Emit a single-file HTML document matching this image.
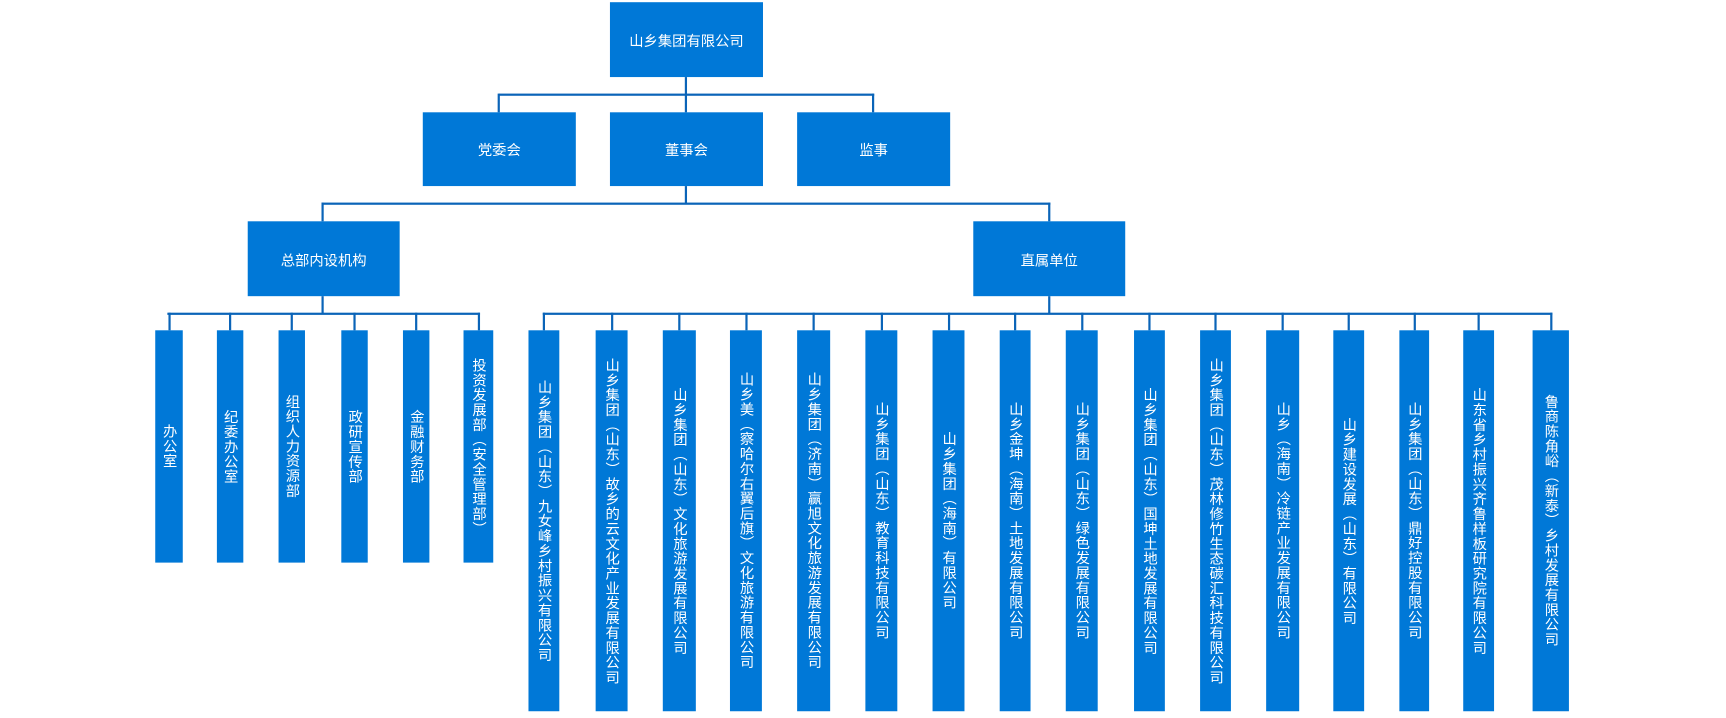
<!DOCTYPE html>
<html><head><meta charset="utf-8"><style>
html,body{margin:0;padding:0;background:#fff;width:1726px;height:717px;overflow:hidden}
#c{position:absolute;left:0;top:0;width:1568px;height:652px;transform:scale(1.1010);transform-origin:0 0}
.b{position:absolute;background:#0078d7;color:#fff;font-family:"Liberation Sans","Noto Sans CJK SC",sans-serif;font-size:13px;display:flex;align-items:center;justify-content:center}
.v{writing-mode:vertical-rl;letter-spacing:0.5px;font-size:13px;line-height:1}
.l{position:absolute;background:#0a64b8}
</style></head><body><div id="c">
<div class="b" style="left:554px;top:2px;width:139px;height:68px">山乡集团有限公司</div>
<div class="l" style="left:622px;top:70px;width:2px;height:32px"></div>
<div class="l" style="left:453px;top:85px;width:341px;height:2px"></div>
<div class="l" style="left:452px;top:85px;width:2px;height:17px"></div>
<div class="l" style="left:792px;top:85px;width:2px;height:17px"></div>
<div class="b" style="left:384px;top:102px;width:139px;height:67px">党委会</div>
<div class="b" style="left:554px;top:102px;width:139px;height:67px">董事会</div>
<div class="b" style="left:724px;top:102px;width:139px;height:67px">监事</div>
<div class="l" style="left:622px;top:169px;width:2px;height:16px"></div>
<div class="l" style="left:292px;top:184px;width:662px;height:2px"></div>
<div class="l" style="left:292px;top:184px;width:2px;height:17px"></div>
<div class="l" style="left:952px;top:184px;width:2px;height:17px"></div>
<div class="b" style="left:225px;top:201px;width:138px;height:68px">总部内设机构</div>
<div class="b" style="left:884px;top:201px;width:138px;height:68px">直属单位</div>
<div class="l" style="left:292px;top:269px;width:2px;height:16px"></div>
<div class="l" style="left:152px;top:284px;width:284px;height:2px"></div>
<div class="l" style="left:952px;top:269px;width:2px;height:16px"></div>
<div class="l" style="left:493px;top:284px;width:917px;height:2px"></div>
<script>
var c=document.getElementById('c');
function add(x,w,h,txt,cx){
 var l=document.createElement('div');l.className='l';l.style.cssText='left:'+(cx-1)+'px;top:284px;width:2px;height:16px';c.appendChild(l);
 var d=document.createElement('div');d.className='b';d.style.cssText='left:'+x+'px;top:300px;width:'+w+'px;height:'+h+'px';
 d.innerHTML='<span class="v">'+txt+'</span>';c.appendChild(d);}
var L=[[141,25,'办公室'],[197,24,'纪委办公室'],[253,24,'组织人力资源部'],[310,24,'政研宣传部'],[366,24,'金融财务部'],[421,27,'投资发展部（安全管理部）']];
L.forEach(function(a){add(a[0],a[1],211,a[2],a[0]+a[1]/2);});
var R=[[480,28,'山乡集团（山东）九女峰乡村振兴有限公司'],[541,29,'山乡集团（山东）故乡的云文化产业发展有限公司'],[602,30,'山乡集团（山东）文化旅游发展有限公司'],[663,29,'山乡美（察哈尔右翼后旗）文化旅游有限公司'],[724,30,'山乡集团（济南）赢旭文化旅游发展有限公司'],[786,29,'山乡集团（山东）教育科技有限公司'],[847,29,'山乡集团（海南）有限公司'],[908,28,'山乡金坤（海南）土地发展有限公司'],[968,29,'山乡集团（山东）绿色发展有限公司'],[1030,28,'山乡集团（山东）国坤土地发展有限公司'],[1090,28,'山乡集团（山东）茂林修竹生态碳汇科技有限公司'],[1150,30,'山乡（海南）冷链产业发展有限公司'],[1211,28,'山乡建设发展（山东）有限公司'],[1271,27,'山乡集团（山东）鼎好控股有限公司'],[1329,28,'山东省乡村振兴齐鲁样板研究院有限公司'],[1392,33,'鲁商陈角峪（新泰）乡村发展有限公司']];
R.forEach(function(a){add(a[0],a[1],346,a[2],a[0]+a[1]/2);});
</script>
</div></body></html>
